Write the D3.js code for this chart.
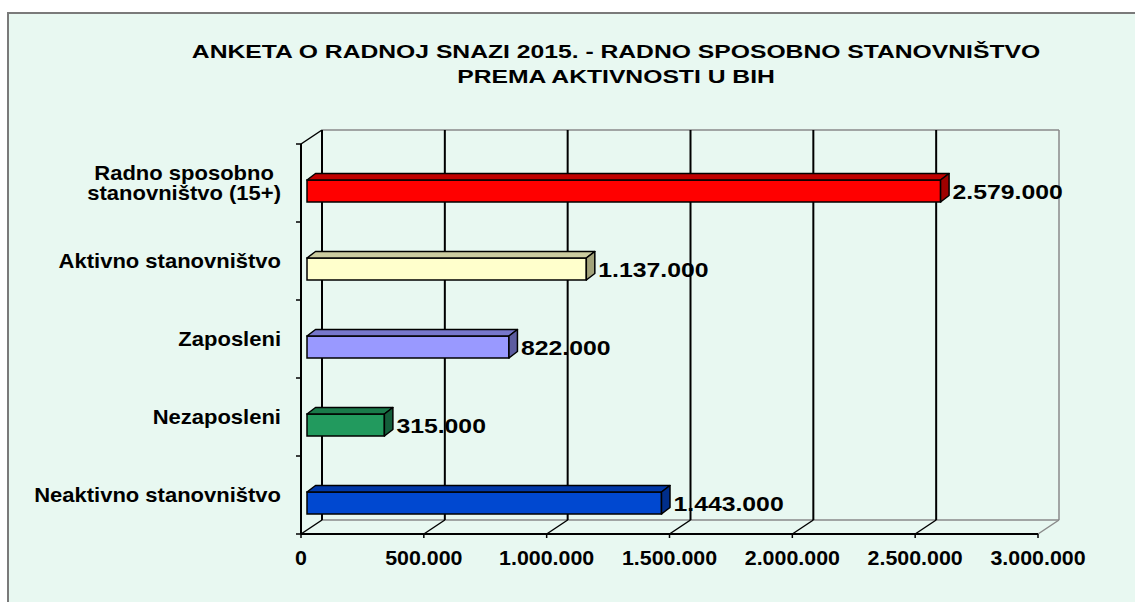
<!DOCTYPE html>
<html>
<head>
<meta charset="utf-8">
<script src="https://cdn.jsdelivr.net/npm/d3@7"></script>
<style>
  html, body { margin: 0; padding: 0; background: #ffffff; }
  svg { display: block; }
  text { font-family: "Liberation Sans", Arial, sans-serif; font-weight: bold; fill: #000; }
</style>
</head>
<body>
<svg id="chart" width="1135" height="602"></svg>
<script>
// ---------- data ----------
const titleLines = ["ANKETA O RADNOJ SNAZI 2015. - RADNO SPOSOBNO STANOVNIŠTVO", "PREMA AKTIVNOSTI U BIH"];
const categories = ["Radno sposobno\nstanovništvo (15+)", "Aktivno stanovništvo", "Zaposleni", "Nezaposleni", "Neaktivno stanovništvo"];
const values = [2579000, 1137000, 822000, 315000, 1443000];
const tickValues = [0, 500000, 1000000, 1500000, 2000000, 2500000, 3000000];
const frontColors = ["#FF0000", "#FFFFCC", "#9999FF", "#229A5E", "#0048D0"];
const topColors   = ["#C00000", "#CCCCA0", "#7777CC", "#1A7A4A", "#0038A8"];
const sideColors  = ["#A00000", "#A3A37A", "#5C5CA0", "#145E3A", "#002E8A"];

// ---------- layout ----------
const svg = d3.select("#chart");
const W = 1135, H = 602;
const depthX = 21, depthY = -14;       // wall depth
const barDX = 8.5, barDY = -6.5;       // bar depth
const barShift = 6;                    // bar front face offset in depth
const barH = 22, barTop = 36;

const fmt = d3.formatLocale({decimal: ",", thousands: ".", grouping: [3], currency: ["", ""]}).format(",d");

const x = d3.scaleLinear().domain([0, 3000000]).range([301, 1038]);
const xb = d3.scaleLinear().domain([0, 3000000]).range([301 + barShift, 1038 + barShift]);
const y = d3.scaleBand().domain(categories).range([144, 534]).padding(0);

// background + frame
svg.append("rect").attr("x", 0).attr("y", 0).attr("width", W).attr("height", H).attr("fill", "#ffffff");
svg.append("rect").attr("x", 8).attr("y", 13).attr("width", W + 10).attr("height", H + 10)
   .attr("fill", "#E8F8F1").attr("stroke", "#7a7a7a").attr("stroke-width", 2);

function stretchText(sel, sx) {
  sel.each(function() {
    const t = d3.select(this);
    const tx = +t.attr("data-x"), ty = +t.attr("data-y");
    t.attr("transform", `translate(${tx},${ty}) scale(${sx},1)`);
  });
}

// title
const titleY = [57.5, 82.5];
svg.append("g").selectAll("text").data(titleLines).join("text")
  .attr("data-x", 616).attr("data-y", (d, i) => titleY[i])
  .attr("text-anchor", "middle").attr("font-size", 19)
  .text(d => d)
  .call(stretchText, 1.3);

// ---------- walls ----------
const g = svg.append("g");
const [x0, x1] = x.range();
const yTop = y.range()[0], yBot = y.range()[1];

// back wall top & right edges (grey)
g.append("line").attr("x1", x0 + depthX).attr("y1", yTop + depthY).attr("x2", x1 + depthX).attr("y2", yTop + depthY)
  .attr("stroke", "#8a8a8a").attr("stroke-width", 1.5);
g.append("line").attr("x1", x1 + depthX).attr("y1", yTop + depthY).attr("x2", x1 + depthX).attr("y2", yBot + depthY)
  .attr("stroke", "#8a8a8a").attr("stroke-width", 1.5);
// floor back edge (grey)
g.append("line").attr("x1", x0 + depthX).attr("y1", yBot + depthY).attr("x2", x1 + depthX).attr("y2", yBot + depthY)
  .attr("stroke", "#8a8a8a").attr("stroke-width", 1.5);

// gridlines on back wall + floor diagonals
tickValues.forEach((t, i) => {
  const last = i === tickValues.length - 1;
  const col = last ? "#8a8a8a" : "#000";
  if (!last) {
    g.append("line").attr("x1", x(t) + depthX).attr("y1", yTop + depthY).attr("x2", x(t) + depthX).attr("y2", yBot + depthY)
      .attr("stroke", col).attr("stroke-width", 2);
  }
  g.append("line").attr("x1", x(t)).attr("y1", yBot).attr("x2", x(t) + depthX).attr("y2", yBot + depthY)
    .attr("stroke", col).attr("stroke-width", 1.5);
  g.append("line").attr("x1", x(t)).attr("y1", yBot).attr("x2", x(t)).attr("y2", yBot + 4)
    .attr("stroke", "#000").attr("stroke-width", 1.5);
});

// left wall top diagonal
g.append("line").attr("x1", x0).attr("y1", yTop).attr("x2", x0 + depthX).attr("y2", yTop + depthY)
  .attr("stroke", "#000").attr("stroke-width", 1.5);
// front axes
g.append("line").attr("x1", x0).attr("y1", yBot).attr("x2", x1).attr("y2", yBot)
  .attr("stroke", "#000").attr("stroke-width", 2);
g.append("line").attr("x1", x0).attr("y1", yTop).attr("x2", x0).attr("y2", yBot)
  .attr("stroke", "#000").attr("stroke-width", 2);
// y ticks
const yBounds = categories.map(c => y(c)).concat([yBot]);
g.selectAll(".ytick").data(yBounds).join("line")
  .attr("x1", x0 - 5).attr("x2", x0).attr("y1", d => d).attr("y2", d => d)
  .attr("stroke", "#000").attr("stroke-width", 1.5);

// ---------- bars ----------
const bars = svg.append("g").selectAll("g").data(values).join("g");
bars.each(function(v, i) {
  const b = d3.select(this);
  const c = categories[i];
  const L = xb(0), R = xb(v);
  const T = y(c) + barTop, B = T + barH;
  // front
  b.append("rect").attr("x", L).attr("y", T).attr("width", R - L).attr("height", barH)
    .attr("fill", frontColors[i]).attr("stroke", "#000").attr("stroke-width", 1.5);
  // top
  b.append("path")
    .attr("d", `M${L},${T}L${R},${T}L${R + barDX},${T + barDY}L${L + barDX},${T + barDY}Z`)
    .attr("fill", topColors[i]).attr("stroke", "#000").attr("stroke-width", 1.5).attr("stroke-linejoin", "round");
  // side
  b.append("path")
    .attr("d", `M${R},${T}L${R + barDX},${T + barDY}L${R + barDX},${B + barDY}L${R},${B}Z`)
    .attr("fill", sideColors[i]).attr("stroke", "#000").attr("stroke-width", 1.5).attr("stroke-linejoin", "round");
});

// value labels
svg.append("g").selectAll("text").data(values).join("text")
  .attr("data-x", v => xb(v) + barDX + 3.5)
  .attr("data-y", (v, i) => y(categories[i]) + y.bandwidth() / 2 + 16)
  .attr("font-size", 21)
  .text(v => fmt(v))
  .call(stretchText, 1.18);

// category labels
const catG = svg.append("g");
categories.forEach(c => {
  const lines = c.split("\n");
  const cy = y(c) + y.bandwidth() / 2;
  const lh = 20.5;
  if (lines.length === 1) {
    catG.append("text").attr("data-x", 281).attr("data-y", cy + 7)
      .attr("text-anchor", "end").attr("font-size", 20).text(lines[0]).call(stretchText, 1.1);
  } else {
    // centered block, right aligned as a whole
    const tmp = lines.map(l => {
      const t = catG.append("text").attr("font-size", 20).text(l);
      const w = t.node().getComputedTextLength() * 1.1; t.remove(); return w;
    });
    const maxW = d3.max(tmp);
    const center = 281 - maxW / 2;
    lines.forEach((l, k) => {
      catG.append("text").attr("data-x", center)
        .attr("data-y", cy + 7 + (k - (lines.length - 1) / 2) * lh)
        .attr("text-anchor", "middle").attr("font-size", 20).text(l).call(stretchText, 1.1);
    });
  }
});

// x tick labels
svg.append("g").selectAll("text").data(tickValues).join("text")
  .attr("data-x", t => x(t)).attr("data-y", 565)
  .attr("text-anchor", "middle").attr("font-size", 20)
  .text(t => fmt(t))
  .call(stretchText, 1.07);
</script>
</body>
</html>
